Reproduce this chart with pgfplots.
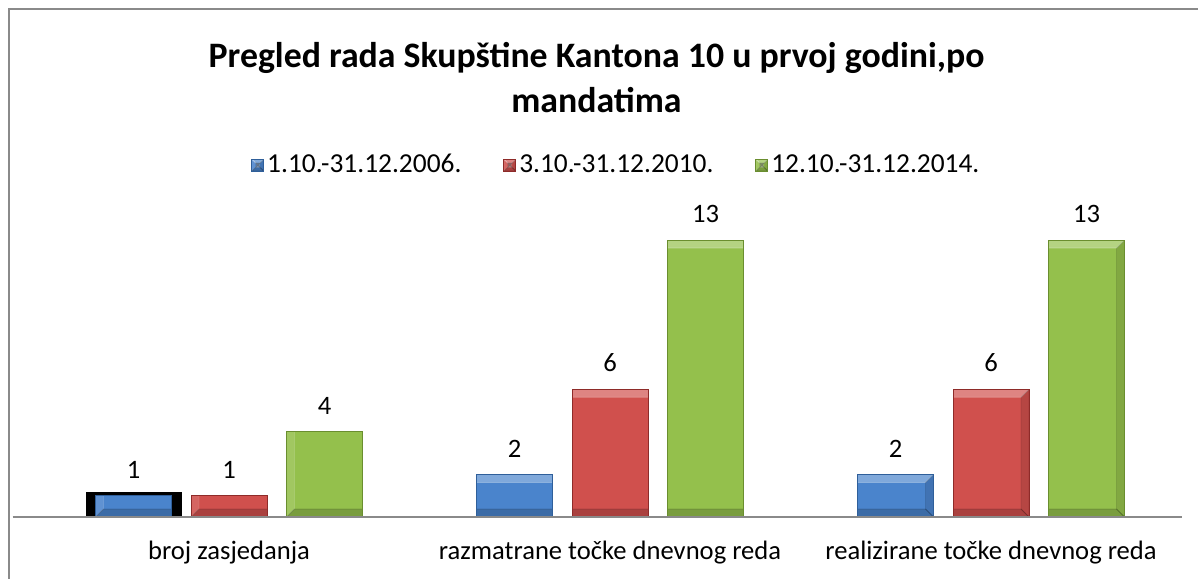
\documentclass[border=0pt]{standalone}
\usepackage{pgfplots}
\pgfplotsset{compat=1.18}
\usepackage{fontspec}
\setmainfont{Carlito}
\definecolor{cblue}{HTML}{4A84CC}
\definecolor{cblued}{HTML}{2F5F9A}
\definecolor{cred}{HTML}{D0504D}
\definecolor{credd}{HTML}{8E2B29}
\definecolor{cgreen}{HTML}{94C04C}
\definecolor{cgreend}{HTML}{6A8E2F}
\definecolor{frame}{HTML}{8A8A8A}
\tikzset{
  bevel/.style={postaction={path picture={
    \fill[white, opacity=0.3] (path picture bounding box.north west) -- (path picture bounding box.north east)
      -- ([xshift=-4pt,yshift=-4pt]path picture bounding box.north east) -- ([xshift=4pt,yshift=-4pt]path picture bounding box.north west) -- cycle;
    \fill[white, opacity=0.12] (path picture bounding box.north west) -- ([xshift=4pt,yshift=-4pt]path picture bounding box.north west)
      -- ([xshift=4pt,yshift=4pt]path picture bounding box.south west) -- (path picture bounding box.south west) -- cycle;
    \fill[black, opacity=0.12] (path picture bounding box.north east) -- ([xshift=-4pt,yshift=-4pt]path picture bounding box.north east)
      -- ([xshift=-4pt,yshift=4pt]path picture bounding box.south east) -- (path picture bounding box.south east) -- cycle;
    \fill[black, opacity=0.18] (path picture bounding box.south west) -- ([xshift=4pt,yshift=4pt]path picture bounding box.south west)
      -- ([xshift=-4pt,yshift=4pt]path picture bounding box.south east) -- (path picture bounding box.south east) -- cycle;
  }}}
}
\begin{document}
\begin{tikzpicture}
\useasboundingbox (0,0) rectangle (599pt,289pt);
\fill[white] (0,0) rectangle (599pt,289pt);
\draw[frame, line width=1pt] (4.5pt,-1pt) -- (4.5pt,284.5pt) -- (600pt,284.5pt);
\node[align=center, font=\fontsize{17.9}{22.5}\selectfont\bfseries] at (298.25pt,250.25pt)
  {Pregled rada Skupštine Kantona 10 u prvoj godini,po\\mandatima};
\begin{axis}[
  at={(114.5pt,30.5pt)}, anchor=origin,
  x=190.5pt, y=10.65pt,
  xmin=-0.568, xmax=2.5, ymin=0, ymax=14,
  axis line style={draw=none},
  major tick length=0pt,
  ytick=\empty,
  xtick={0,1,2},
  xticklabels={broj zasjedanja, razmatrane točke dnevnog reda, realizirane točke dnevnog reda},
  xticklabel style={font=\fontsize{13.3}{15}\selectfont, yshift=-8.5pt},
  ybar, bar width=38pt,
  clip=false,
  nodes near coords,
  /pgf/number format/assume math mode=true,
  every node near coord/.append style={font=\fontsize{13.3}{15}\selectfont, text=black, yshift=5pt},
  legend columns=3,
  legend style={at={(0.517,1.180)}, anchor=center, draw=none, fill=none,
    font=\fontsize{13.7}{15}\selectfont,
    nodes={inner xsep=1.5pt},
    /tikz/every even column/.append style={column sep=19.5pt}},
  legend image code/.code={\draw[#1] (0pt,-3pt) rectangle (6pt,3pt);},
]
\addplot[fill=black, draw=black, bar shift=-47.75pt, bar width=47.5pt, forget plot, nodes near coords={}] coordinates {(0,1.17)};
\addplot[fill=cblue, draw=cblued, bar shift=-47.75pt, bevel] coordinates {(0,1) (1,2) (2,2)};
\addplot[fill=cred, draw=credd, bar shift=0pt, bevel] coordinates {(0,1) (1,6) (2,6)};
\addplot[fill=cgreen, draw=cgreend, bar shift=47.75pt, bevel] coordinates {(0,4) (1,13) (2,13)};
\legend{1.10.-31.12.2006., 3.10.-31.12.2010., 12.10.-31.12.2014.}
\draw[frame, line width=0.8pt] (axis cs:-0.568,0) -- (axis cs:2.5,0);
\end{axis}
\end{tikzpicture}
\end{document}
